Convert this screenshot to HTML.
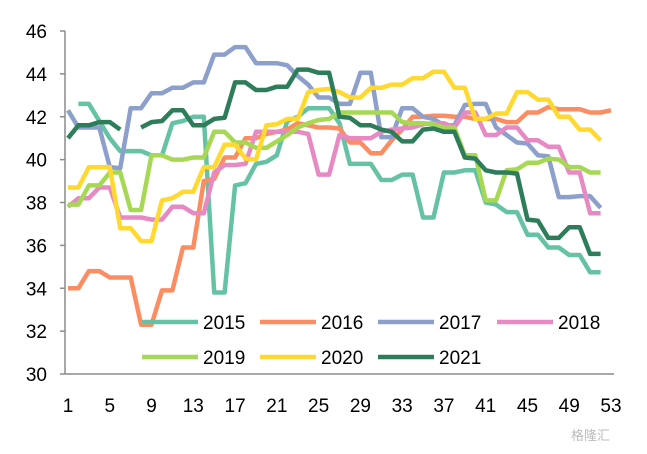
<!DOCTYPE html>
<html><head><meta charset="utf-8"><style>
html,body{margin:0;padding:0;background:#fff;}
svg{display:block;font-family:"Liberation Sans","Noto Sans CJK SC",sans-serif;}
</style></head><body>
<svg id="chart" width="647" height="454" viewBox="0 0 647 454" xmlns="http://www.w3.org/2000/svg">
<g id="axes"></g>
<g id="series"></g>
<g id="legend"></g>
<text x="610" y="440" font-size="13" fill="#bbb" text-anchor="end">格隆汇</text>
</svg>
<script>
const weeks = Array.from({length:53},(_, i)=>i+1);
const yTicks = [30,32,34,36,38,40,42,44,46];
const xTickLabels = [1,5,9,13,17,21,25,29,33,37,41,45,49,53];
const seriesNames = ["2015","2016","2017","2018","2019","2020","2021"];
const s2015 = [null,42.6,42.6,41.8,41.0,40.4,40.4,40.4,40.2,40.2,41.7,41.8,42.0,42.0,33.8,33.8,38.8,38.9,39.8,39.9,40.2,41.8,42.0,42.4,42.4,42.4,41.7,39.8,39.8,39.8,39.05,39.05,39.3,39.3,37.3,37.3,39.4,39.4,39.5,39.5,38.0,37.9,37.55,37.55,36.5,36.5,35.9,35.9,35.55,35.55,34.75,34.75,null];
const s2016 = [34.0,34.0,34.8,34.8,34.5,34.5,34.5,32.3,32.3,33.9,33.9,35.9,35.9,39.0,39.1,40.1,40.1,41.0,41.0,41.2,41.3,41.4,41.7,41.6,41.5,41.5,41.45,40.8,40.8,40.3,40.3,40.9,41.4,42.0,42.0,42.05,42.05,42.0,42.0,41.9,41.9,41.9,41.75,41.75,42.2,42.2,42.45,42.35,42.35,42.35,42.2,42.2,42.3];
const s2017 = [42.3,41.5,41.5,41.5,39.65,39.6,42.4,42.4,43.1,43.1,43.35,43.35,43.6,43.6,44.9,44.9,45.25,45.25,44.5,44.5,44.5,44.4,43.9,43.5,42.9,42.9,42.6,42.6,44.05,44.05,41.05,41.05,42.4,42.4,42.0,41.9,41.6,41.6,42.55,42.6,42.6,41.5,41.15,40.8,40.75,40.2,40.15,38.25,38.25,38.3,38.3,37.75,null];
const s2018 = [37.8,38.2,38.2,38.7,38.7,37.3,37.3,37.3,37.2,37.2,37.8,37.8,37.5,37.5,39.4,39.75,39.75,39.8,41.3,41.3,41.3,41.3,41.3,41.2,39.3,39.3,41.15,41.0,41.0,41.0,41.3,41.4,41.45,41.5,41.65,41.7,41.7,41.5,42.2,42.2,41.15,41.15,41.5,41.5,40.9,40.9,40.6,40.6,39.4,39.4,37.5,37.5,null];
const s2019 = [37.9,37.9,38.8,38.8,39.4,39.4,37.65,37.65,40.2,40.2,40.0,40.0,40.1,40.1,41.3,41.3,40.8,40.8,40.55,40.55,40.85,41.15,41.5,41.7,41.85,41.9,42.2,42.2,42.2,42.2,42.2,42.2,41.75,41.7,41.7,41.65,41.5,41.5,40.2,40.2,38.1,38.1,39.5,39.55,39.85,39.85,40.05,40.0,39.65,39.65,39.4,39.4,null];
const s2020 = [38.7,38.7,39.65,39.65,39.65,36.8,36.8,36.2,36.2,38.1,38.2,38.5,38.5,39.65,39.65,40.7,40.7,40.05,40.0,41.6,41.65,41.9,41.9,43.15,43.25,43.3,43.15,42.9,42.9,43.35,43.35,43.5,43.5,43.8,43.8,44.1,44.1,43.35,43.35,41.9,41.9,42.15,42.15,43.15,43.15,42.8,42.8,42.0,42.0,41.4,41.4,40.9,null];
const s2021 = [41.0,41.6,41.6,41.75,41.75,41.4,null,41.5,41.75,41.8,42.3,42.3,41.6,41.6,41.9,41.95,43.6,43.6,43.25,43.25,43.4,43.4,44.2,44.2,44.05,44.05,42.0,41.95,41.6,41.6,41.4,41.3,40.85,40.85,41.4,41.45,41.3,41.3,40.1,40.05,39.5,39.4,39.4,39.35,37.2,37.15,36.35,36.35,36.85,36.85,35.6,35.6,null];
const allSeries = [s2015,s2016,s2017,s2018,s2019,s2020,s2021];
const colors = ["#66c2a5","#fc8d62","#8da0cb","#e78ac3","#a6d854","#ffd92f","#2e7d5a"];

const X0=65, X1=611, Y0=374, Y1=31, YMIN=30, YMAX=46;
function xs(w){ return 68 + (w-1)*(X1-68)/52; }
function ys(v){ return Y0 - (v-YMIN)/(YMAX-YMIN)*(Y0-Y1); }
const NS="http://www.w3.org/2000/svg";
function mk(tag, attrs, parent){ const e=document.createElementNS(NS,tag); for(const k in attrs) e.setAttribute(k,attrs[k]); parent.appendChild(e); return e; }

const axes=document.getElementById('axes');
const ya=mk('line',{x1:X0,y1:Y1,x2:X0,y2:Y0,stroke:'#8c8c8c','stroke-width':1.5},axes);


const xa=mk('line',{x1:X0,y1:Y0,x2:614,y2:Y0,stroke:'#8c8c8c','stroke-width':1.5},axes);


yTicks.forEach(v=>{
  const t=mk('line',{x1:X0-5,y1:ys(v),x2:X0,y2:ys(v),stroke:'#8c8c8c','stroke-width':1.5},axes);
  
  
  const l=mk('text',{x:47,y:ys(v)+7,'font-size':19,'text-anchor':'end',fill:'#000'},axes);
  l.textContent=v;
  
  
});
xTickLabels.forEach(w=>{
  const l=mk('text',{x:xs(w),y:412,'font-size':19,'text-anchor':'middle',fill:'#000'},axes);
  l.textContent=w;
  
  
});

const sg=document.getElementById('series');
allSeries.forEach((arr,si)=>{
  let d='', pen=false;
  arr.forEach((v,i)=>{
    if(v===null){pen=false;return;}
    d += (pen?'L':'M') + xs(weeks[i]).toFixed(1)+','+ys(v).toFixed(1)+' ';
    pen=true;
  });
  const p=mk('path',{d:d,fill:'none',stroke:colors[si],'stroke-width':4.5,'stroke-linejoin':'round','stroke-linecap':'butt'},sg);
  
  
});

const lg=document.getElementById('legend');
const lx=[142,260,378,497];
seriesNames.forEach((n,i)=>{
  const row=Math.floor(i/4), col=i%4;
  const x=lx[col], y=row?357:322;
  const ln=mk('line',{x1:x,y1:y,x2:x+56,y2:y,stroke:colors[i],'stroke-width':4.5},lg);
  
  
  const t=mk('text',{x:x+61,y:y+7,'font-size':19,fill:'#000'},lg);
  t.textContent=n;
  
  
});
</script>
</body></html>
